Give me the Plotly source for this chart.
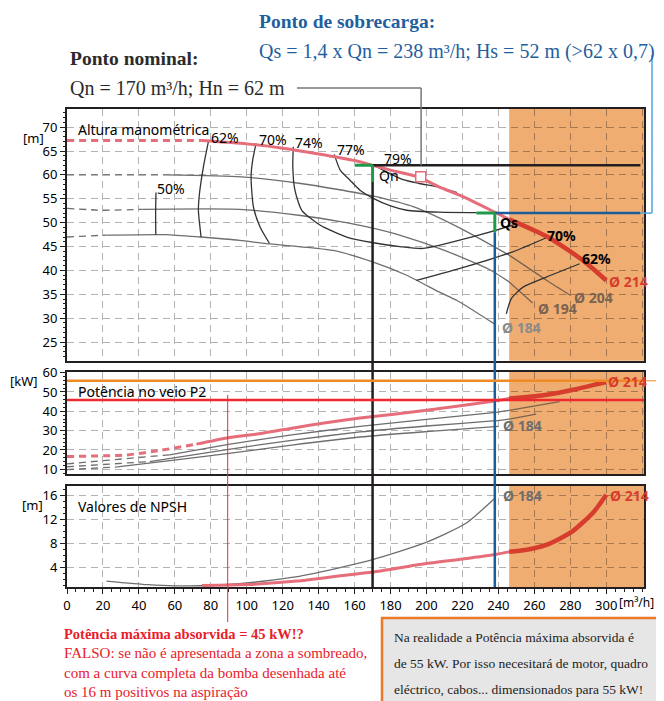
import plotly.graph_objects as go

# ---------------- data ----------------
Q_SHADE = 246            # start of the shaded (hidden) zone, m3/h
Q_RANGE = [0, 321]
H_RANGE = [21.1, 73.8]
P_RANGE = [7.4, 60.5]
N_RANGE = [0.7, 17.7]

Q_N, H_N = 170, 62       # nominal point
Q_S, H_S = 238, 52       # overload point
P_SHOWN = 45.8           # apparent max power
P_REAL = 55.8            # real max power
Q_PTR = 89.4             # thin red pointer

# Head curves  (dashed up to *_dash)
q_h214 = [0, 40, 75, 100, 120, 140, 160, 170, 180, 196, 207, 220, 238, 246, 267, 287, 300]
h_h214 = [67.2, 67.2, 67.2, 66.5, 65.6, 64.4, 63.0, 62.0, 61.0, 59.5, 57.5, 55.5, 52.2, 50.7, 47.1, 42.1, 37.9]
q_h204 = [0, 55, 97, 130, 150, 170, 193, 220, 246, 267, 280]
h_h204 = [60, 60, 59.6, 58.2, 57.0, 55.6, 53.3, 48.6, 43.2, 37.9, 34.8]
q_h194 = [0, 20, 42, 96, 130, 152, 167, 185, 210, 235, 246, 259]
h_h194 = [53, 52.6, 52.8, 52.8, 51.5, 50.2, 49.1, 47.4, 44.2, 40.2, 37.6, 33.2]
q_h184 = [0, 22, 55, 74, 96, 111, 148, 170, 189, 207, 217, 238.6]
h_h184 = [47, 47.4, 47.5, 47.0, 46.3, 45.6, 44.2, 41.8, 39.0, 35.5, 33.7, 28.6]

# Iso-efficiency curves
q_e50 = [49.5, 49.3, 49.4]
h_e50 = [56.3, 52.0, 47.5]
q_e62a = [78.7, 75.9, 73.7, 73.1, 74.6]
h_e62a = [67.0, 61.7, 56.1, 52.6, 47.0]
q_e70a = [105.2, 103.3, 102.4, 103.7, 107.4, 112.6]
h_e70a = [66.6, 63.1, 59.6, 53.3, 49.1, 45.7]
q_e74 = [125.9, 125.6, 126.8, 130.6, 140.7, 155.6, 170.4, 185.2, 198, 225, 248, 251]
h_e74 = [65.9, 61.7, 56.8, 52.6, 49.5, 47.0, 45.8, 45.0, 44.6, 47.0, 49.5, 49.9]
q_e77 = [148.7, 152, 157.4, 163, 170.4, 180, 189, 207, 228]
h_e77 = [64.3, 61.0, 58.9, 56.8, 55.1, 53.5, 52.6, 52.2, 52.1]
q_e79 = [172, 178, 187, 196, 207, 217]
h_e79 = [61.8, 60.6, 59.0, 58.2, 57.4, 56.3]
q_e70b = [194.4, 222, 248, 267]
h_e70b = [37.9, 40.8, 43.9, 46.9]
q_e62b = [244.4, 247.2, 253.7, 266.7, 285.2]
h_e62b = [30.9, 34.1, 36.5, 38.6, 41.4]

# Shaft power P2
q_p214 = [0, 33, 52, 72, 89, 107, 126, 144, 163, 200, 237, 246, 265, 283, 296, 300]
p_p214 = [16.6, 17.4, 19.8, 23.0, 26.2, 28.4, 31.4, 34.1, 36.5, 40.5, 45.2, 46.6, 48.3, 51.4, 54.3, 55.2]
q_p204 = [0, 57, 89, 125, 163, 200, 237, 246, 274]
p_p204 = [12.8, 17.5, 22.7, 27.8, 32.2, 35.8, 39.3, 40.5, 45.0]
q_p194 = [0, 46, 89, 125, 163, 200, 237, 246, 261]
p_p194 = [11.3, 14.0, 20.2, 25.0, 29.3, 32.4, 35.0, 36.0, 38.6]
q_p184 = [0, 28, 55, 89, 125, 163, 200, 240]
p_p184 = [9.8, 11.2, 14.2, 18.1, 22.5, 26.7, 29.5, 32.2]

# NPSH
q_n184 = [22, 45, 60, 80, 104, 125, 142, 170, 199, 222, 238]
n_n184 = [1.7, 1.1, 0.9, 0.95, 1.5, 2.3, 3.3, 5.3, 8.1, 11.4, 15.6]
q_n214 = [75, 100, 128, 150, 170, 199, 220, 239, 246, 255, 267, 281, 293, 300]
n_n214 = [0.95, 1.1, 1.7, 2.5, 3.2, 4.6, 5.4, 6.2, 6.6, 6.9, 7.8, 10.0, 13.3, 16.2]

Q_MARK, H_MARK = 196.8, 59.6

X_TICKS = list(range(0, 301, 20))

# ---------------- layout helpers ----------------
PAGE_OFF = 8                     # browser body margin
W, HGT = 664 - PAGE_OFF, 701 - PAGE_OFF
ML, MR, MT, MB = 67 - PAGE_OFF, 20, 109 - PAGE_OFF, 114
PW, PH = W - ML - MR, HGT - MT - MB
DOM_H = [0.4734, 1.0]
DOM_P = [0.2358, 0.4504]
DOM_N = [0.0, 0.2119]

SANS = "Noto Sans"
SERIF = "Liberation Serif"

PINK = "#e66e7a"
DRED = "#d63d2c"
GREY = "#6e6e6e"
BROWN = "#7a6350"
EFF = "#333333"
GREEN = "#1e9a4a"
BLUE = "#1d5c99"
LBLUE = "#4da6dc"
ORANGE_ZONE = "#efad72"
RED = "#ee2a2f"
ORANGE = "#f08a24"


def pxx(px):
    """page pixel x -> paper fraction"""
    return (px - PAGE_OFF - ML) / PW


def pxy(py):
    """page pixel y -> paper fraction"""
    return (HGT - MB - (py - PAGE_OFF)) / PH


def paper_y(v, dom, rng):
    return dom[0] + (v - rng[0]) / (rng[1] - rng[0]) * (dom[1] - dom[0])


def paper_x(q):
    return (q - Q_RANGE[0]) / (Q_RANGE[1] - Q_RANGE[0])


def seg(q, v, lo, hi):
    pts = [(a, b) for a, b in zip(q, v) if lo <= a <= hi]
    return [p[0] for p in pts], [p[1] for p in pts]


fig = go.Figure()


def line(q, v, xa, ya, color, width, dash=None, shape="spline"):
    fig.add_trace(go.Scatter(x=q, y=v, xaxis=xa, yaxis=ya, mode="lines",
                             line=dict(color=color, width=width, dash=dash,
                                       shape=shape, smoothing=0.6),
                             hoverinfo="skip", showlegend=False))


def curve(q, v, xa, ya, dash_end, cw, co, ww, wo):
    start = q[0]
    if dash_end is not None:
        a, b = seg(q, v, q[0], dash_end)
        line(a, b, xa, ya, cw, ww, dash="7px,5px")
        start = dash_end
    a, b = seg(q, v, start, Q_SHADE)
    if len(a) > 1:
        line(a, b, xa, ya, cw, ww)
    a, b = seg(q, v, Q_SHADE, q[-1])
    if len(a) > 1:
        line(a, b, xa, ya, co, wo)


# head panel
curve(q_h204, h_h204, "x", "y", 55, GREY, BROWN, 1.3, 1.3)
curve(q_h194, h_h194, "x", "y", 42, GREY, BROWN, 1.3, 1.3)
curve(q_h184, h_h184, "x", "y", 22, GREY, BROWN, 1.3, 1.3)
for qq, hh in [(q_e50, h_e50), (q_e62a, h_e62a), (q_e70a, h_e70a), (q_e74, h_e74),
               (q_e77, h_e77), (q_e79, h_e79), (q_e70b, h_e70b), (q_e62b, h_e62b)]:
    line(qq, hh, "x", "y", EFF, 1.3)
curve(q_h214, h_h214, "x", "y", 75, PINK, DRED, 3, 4.5)
fig.add_trace(go.Scatter(x=[Q_MARK], y=[H_MARK], xaxis="x", yaxis="y", mode="markers",
                         marker=dict(symbol="square", size=10, color="white",
                                     line=dict(color=PINK, width=1.5)),
                         hoverinfo="skip", showlegend=False))

# power panel
curve(q_p204, p_p204, "x2", "y2", 57, GREY, BROWN, 1.3, 1.3)
curve(q_p194, p_p194, "x2", "y2", 46, GREY, BROWN, 1.3, 1.3)
curve(q_p184, p_p184, "x2", "y2", 28, GREY, BROWN, 1.3, 1.3)
curve(q_p214, p_p214, "x2", "y2", 72, PINK, DRED, 3, 4.5)

# NPSH panel
curve(q_n184, n_n184, "x3", "y3", None, GREY, BROWN, 1.3, 1.3)
curve(q_n214, n_n214, "x3", "y3", None, PINK, DRED, 3, 4.5)

# ---------------- shapes ----------------
shapes = []
for xr, yr in [("x", "y domain"), ("x2", "y2 domain"), ("x3", "y3 domain")]:
    shapes.append(dict(type="rect", xref=xr, yref=yr, x0=Q_SHADE, x1=Q_RANGE[1],
                       y0=0, y1=1, fillcolor=ORANGE_ZONE, line=dict(width=0), layer="below"))

H_QN_LOW = 58.5
H_QS_LOW = 48.0
# nominal point
shapes.append(dict(type="line", xref="x", yref="paper", x0=Q_N, x1=Q_N, y0=0,
                   y1=paper_y(H_QN_LOW, DOM_H, H_RANGE), line=dict(color="#231f20", width=2.5)))
shapes.append(dict(type="line", xref="x", yref="y", x0=Q_N, x1=319, y0=H_N, y1=H_N,
                   line=dict(color="#231f20", width=2.5)))
shapes.append(dict(type="line", xref="x", yref="y", x0=160, x1=Q_N, y0=H_N, y1=H_N,
                   line=dict(color=GREEN, width=3)))
shapes.append(dict(type="line", xref="x", yref="y", x0=Q_N, x1=Q_N, y0=H_N, y1=H_QN_LOW,
                   line=dict(color=GREEN, width=3)))
# leader from nominal text
shapes.append(dict(type="line", xref="paper", yref="paper", x0=pxx(297), x1=paper_x(197),
                   y0=pxy(88), y1=pxy(88), line=dict(color="#777777", width=1.5)))
shapes.append(dict(type="line", xref="paper", yref="paper", x0=paper_x(197), x1=paper_x(197),
                   y0=pxy(88), y1=paper_y(H_N, DOM_H, H_RANGE), line=dict(color="#777777", width=1.5)))
# overload point
shapes.append(dict(type="line", xref="x", yref="paper", x0=Q_S, x1=Q_S, y0=0,
                   y1=paper_y(H_QS_LOW, DOM_H, H_RANGE), line=dict(color=BLUE, width=2.5)))
shapes.append(dict(type="line", xref="x", yref="y", x0=Q_S, x1=319, y0=H_S, y1=H_S,
                   line=dict(color=BLUE, width=2.5)))
shapes.append(dict(type="line", xref="x", yref="y", x0=227.8, x1=Q_S, y0=H_S, y1=H_S,
                   line=dict(color=GREEN, width=3)))
shapes.append(dict(type="line", xref="x", yref="y", x0=Q_S, x1=Q_S, y0=H_S, y1=H_QS_LOW,
                   line=dict(color=GREEN, width=3)))
# light blue leader to overload text
shapes.append(dict(type="line", xref="paper", yref="paper", x0=paper_x(319), x1=pxx(652),
                   y0=paper_y(H_S, DOM_H, H_RANGE), y1=paper_y(H_S, DOM_H, H_RANGE),
                   line=dict(color=LBLUE, width=1.5)))
shapes.append(dict(type="line", xref="paper", yref="paper", x0=pxx(652), x1=pxx(652),
                   y0=paper_y(H_S, DOM_H, H_RANGE), y1=pxy(55), line=dict(color=LBLUE, width=1.5)))
# power limits
shapes.append(dict(type="line", xref="x2", yref="y2", x0=Q_RANGE[0], x1=Q_RANGE[1],
                   y0=P_SHOWN, y1=P_SHOWN, line=dict(color=RED, width=2.5)))
shapes.append(dict(type="line", xref="paper", yref="y2", x0=0, x1=1,
                   y0=P_REAL, y1=P_REAL, line=dict(color=ORANGE, width=2.5)))
shapes.append(dict(type="line", xref="paper", yref="y2", x0=1, x1=pxx(664),
                   y0=P_REAL, y1=P_REAL, line=dict(color=ORANGE, width=1)))
shapes.append(dict(type="line", xref="x", yref="paper", x0=Q_PTR, x1=Q_PTR,
                   y0=pxy(622), y1=pxy(395), line=dict(color=RED, width=1)))
# explanation box
shapes.append(dict(type="rect", xref="paper", yref="paper", x0=pxx(382), x1=pxx(700),
                   y0=pxy(720), y1=pxy(618), fillcolor="#e6e6e6",
                   line=dict(color="#e87a2a", width=2.5), layer="above"))

# ---------------- annotations ----------------
ann = []


def txt(x, y, s, xr, yr, size=14, color="black", family=SANS, bold=False, xanchor="left"):
    if bold:
        s = "<b>" + s + "</b>"
    ann.append(dict(x=x, y=y, xref=xr, yref=yr, text=s, showarrow=False,
                    xanchor=xanchor, yanchor="middle",
                    font=dict(family=family, size=size, color=color)))


txt(5.2, 69.5, "Altura manométrica", "x", "y")
for lab, xq, yh in [("50%", 49.2, 57.1), ("62%", 79.2, 67.8), ("70%", 105.6, 67.4),
                    ("74%", 125.9, 66.8), ("77%", 149, 65.3), ("79%", 175, 63.4)]:
    txt(xq, yh, lab, "x", "y")
txt(172.2, 59.8, "Qn", "x", "y")
txt(239.8, 50.1, "Qs", "x", "y", bold=True)
txt(266.1, 47.4, "70%", "x", "y", bold=True)
txt(285.2, 42.5, "62%", "x", "y", bold=True)
txt(300.5, 37.7, "Ø 214", "x", "y", color=DRED, bold=True)
txt(281.1, 34.3, "Ø 204", "x", "y", color=BROWN, bold=True)
txt(260.7, 32.0, "Ø 194", "x", "y", color=BROWN, bold=True)
txt(240.7, 28.1, "Ø 184", "x", "y", color="#8a8a8a", bold=True)

txt(5.2, 50.0, "Potência no veio P2", "x2", "y2")
txt(300, 55.2, "Ø 214", "x2", "y2", color=DRED, bold=True)
txt(241.7, 32.4, "Ø 184", "x2", "y2", color=GREY, bold=True)

txt(4.9, 14.2, "Valores de NPSH", "x3", "y3")
txt(241.2, 16.0, "Ø 184", "x3", "y3", color=GREY, bold=True)
txt(301, 16.0, "Ø 214", "x3", "y3", color=DRED, bold=True)

txt(pxx(33), pxy(138), "[m]", "paper", "paper", size=13, xanchor="center")
txt(pxx(24), pxy(381), "[kW]", "paper", "paper", size=13, xanchor="center")
txt(pxx(32), pxy(505), "[m]", "paper", "paper", size=13, xanchor="center")
txt(pxx(656), pxy(602), "[m³/h]", "paper", "paper", size=12, xanchor="right")

txt(pxx(257), pxy(21.5), "Ponto de sobrecarga:", "paper", "paper", size=19.5,
    color="#1f5fa0", family=SERIF, bold=True)
txt(pxx(257), pxy(51.7), "Qs = 1,4 x Qn = 238 m³/h; Hs = 52 m (>62 x 0,7)", "paper", "paper",
    size=20, color="#1f5fa0", family=SERIF)
txt(pxx(68), pxy(58.3), "Ponto nominal:", "paper", "paper", size=19.5,
    color="#2b2b2b", family=SERIF, bold=True)
txt(pxx(68), pxy(88.3), "Qn = 170 m³/h; Hn = 62 m", "paper", "paper", size=20,
    color="#2b2b2b", family=SERIF)

red_lines = ["Potência máxima absorvida = 45 kW!?",
             "FALSO: se não é apresentada a zona a sombreado,",
             "com a curva completa da bomba desenhada até",
             "os 16 m positivos na aspiração"]
for i, (s, py) in enumerate(zip(red_lines, [634.3, 653.3, 672.7, 691.7])):
    txt(pxx(62), pxy(py), s, "paper", "paper", size=(14.5 if i == 0 else 15), color="#e8202a",
        family=SERIF, bold=(i == 0))

box_lines = ["Na realidade a Potência máxima absorvida é",
             "de 55 kW. Por isso necesitará de motor, quadro",
             "eléctrico, cabos... dimensionados para 55 kW!"]
for s, py in zip(box_lines, [637.3, 663.3, 689.0]):
    txt(pxx(392), pxy(py), s, "paper", "paper", size=13.5, color="#222222", family=SERIF)

# ---------------- axes ----------------
GRID = dict(showgrid=True, gridcolor="rgba(0,0,0,0.30)", gridwidth=1.2, griddash="7px,5px")
LINE = dict(showline=True, linecolor="#231f20", linewidth=2, mirror=True)


def xax(dom_anchor, labels):
    d = dict(domain=[0, 1], anchor=dom_anchor, range=Q_RANGE, tick0=0, dtick=20,
             zeroline=False, **GRID, **LINE)
    if labels:
        d.update(tickmode="array", tickvals=X_TICKS, ticks="outside", ticklen=5,
                 tickwidth=1.3, tickcolor="#231f20", showticklabels=True,
                 tickfont=dict(family=SANS, size=13, color="black"),
                 minor=dict(ticks="outside", dtick=5, tick0=0, ticklen=3,
                            tickcolor="#231f20", showgrid=False))
    else:
        d.update(ticks="", showticklabels=False)
    return d


def yax(dom, rng, dtick, mdtick, anchor):
    return dict(domain=dom, anchor=anchor, range=rng, tick0=0, dtick=dtick,
                ticks="outside", ticklen=5, tickwidth=1.3, tickcolor="#231f20",
                tickfont=dict(family=SANS, size=13, color="black"), zeroline=False,
                minor=dict(ticks="outside", dtick=mdtick, ticklen=2.5,
                           tickcolor="#231f20", showgrid=False),
                **GRID, **LINE)


fig.update_layout(
    width=W, height=HGT,
    margin=dict(l=ML, r=MR, t=MT, b=MB),
    paper_bgcolor="white", plot_bgcolor="white",
    showlegend=False,
    font=dict(family=SANS, size=13, color="black"),
    xaxis=xax("y", False),
    xaxis2=xax("y2", False),
    xaxis3=xax("y3", True),
    yaxis=yax(DOM_H, H_RANGE, 5, 1, "x"),
    yaxis2=yax(DOM_P, P_RANGE, 10, 2, "x2"),
    yaxis3=yax(DOM_N, N_RANGE, 4, 1, "x3"),
    shapes=shapes,
    annotations=ann,
)

fig.write_html("out.html")
